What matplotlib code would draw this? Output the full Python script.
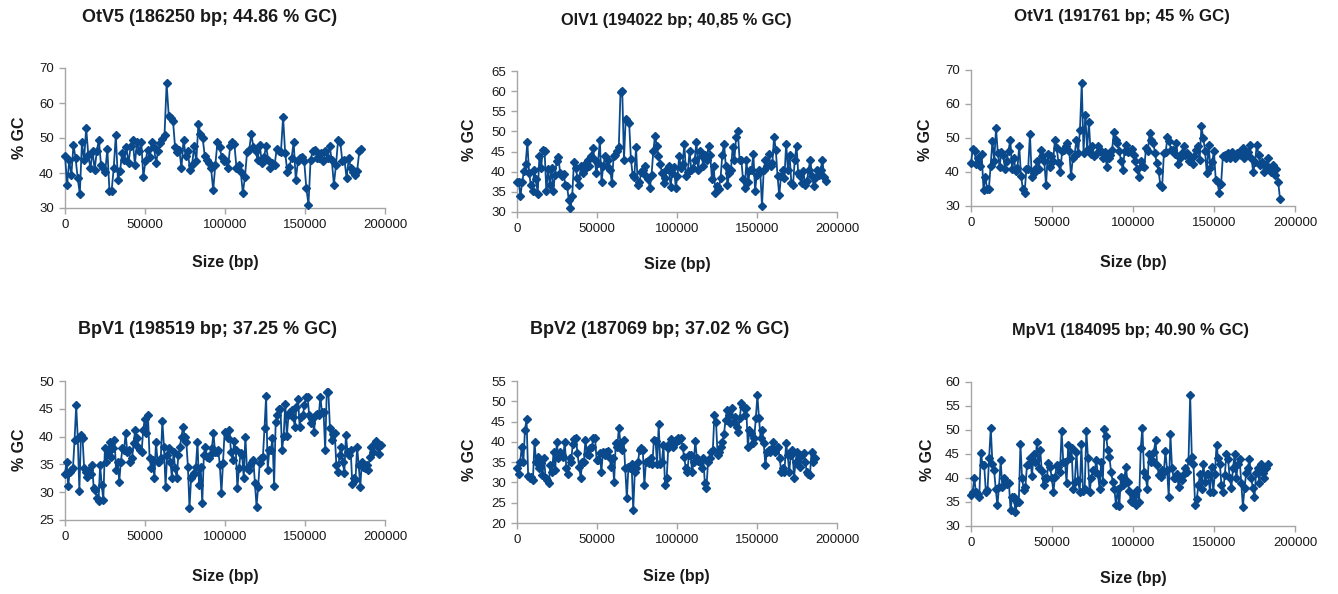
import numpy as np
import matplotlib
matplotlib.use("Agg")
import matplotlib.pyplot as plt

plt.rcParams['font.family'] = ['Liberation Sans', 'DejaVu Sans']

# ---------------- data ----------------
titles = ["OtV5 (186250 bp; 44.86 % GC)", "OlV1 (194022 bp; 40,85 % GC)", "OtV1 (191761 bp; 45 % GC)",
          "BpV1 (198519 bp; 37.25 % GC)", "BpV2 (187069 bp; 37.02 % GC)", "MpV1 (184095 bp; 40.90 % GC)"]
genome_len = [186250, 194022, 191761, 198519, 187069, 184095]
x_ticks = [0, 50000, 100000, 150000, 200000]
y_ranges = [(30, 70, 10), (30, 65, 5), (30, 70, 10), (25, 50, 5), (20, 55, 5), (30, 60, 5)]

gc_otv5 = [45, 36.7, 43.6, 39.4, 48, 44.2, 38.5, 34, 48.8, 43.6, 52.9, 45.2, 41.3, 46.3, 40.9, 46.2, 49.5,
           42.3, 41.5, 40.4, 46.8, 34.8, 34.8, 41.3, 50.8, 38, 40.6, 45.7, 43.8, 47.3, 42.8, 47.6, 49.5, 42.3,
           49, 46.2, 49, 38.9, 43.3, 46.6, 44.7, 49, 47.3, 43, 46.2, 48.6, 49.8, 50.8, 65.6, 56.3, 55.8, 55,
           47.3, 45.9, 46.6, 41.5, 49.5, 44.9, 46.2, 40.9, 42.3, 47.6, 43.3, 54, 51.2, 50, 45, 43.8, 42.8,
           41.3, 35.1, 42.3, 48.8, 47.3, 44.7, 43.3,
           43.3, 41.5, 47.6, 49, 48.3, 41.5, 42.3, 40.4, 34.3, 38.9, 46, 46.6, 51.2, 47.3, 46.2, 43.8, 48,
           42.8, 44.7, 47.6, 43.8, 41.3, 42.8, 42.3, 46.9, 46.2, 46, 56, 45.7, 40.4, 41.8, 44.2, 48.8, 38,
           43.3, 44.2, 44.7, 43.3, 35.6, 31, 43.8, 46.3, 46.6, 44.4, 44.2, 45.7, 43.3, 46.2, 44.2, 47.6,
           43.8, 36.7, 42.3, 49.5, 49, 43.3, 43.8, 38.5, 44.2, 41.5, 40.4, 39.4, 40.6, 46.2, 46.8]

gc_olv1 = [37.4, 37.4, 34, 37.4, 40.1, 42, 47.3, 39.7, 36.8, 35.2, 40.5, 38.1, 34.5, 44, 41, 45.5, 45.1,
           35.2, 40.7, 36.6, 41, 35.2, 39.3, 42.6, 43.7, 39.7, 38.9, 39.5, 36.8, 36.4, 33.1, 30.9, 34, 42.3,
           41, 38.5, 36.8, 41.5, 39.7, 40.5, 42.2, 43, 41.4, 43.8, 45.9, 43, 39.7, 42.2, 47.9, 37.4, 41.5,
           43.8, 41.5, 43, 40.5, 37.2, 43.8, 44.1, 45.1, 46.1, 59.9, 60.1, 43, 53.1, 52.5, 52.2, 43.2, 39.3,
           38.7, 46.1, 36.6, 37.4, 39.9, 40.5, 41.5, 39, 38.1, 36, 39.3, 45.1, 48.9, 46.5, 44, 42, 39.7,
           37.2, 38.5, 40.7, 41.4, 36.3, 39.7,
           41.2, 36, 38.9, 43.8, 41, 42, 47, 38.9, 39.9, 45.1, 40.5, 41, 43, 47.5, 40.5, 45.1, 44, 41.4,
           44.2, 43, 46.5, 44.2, 38.1, 41.5, 34.6, 36.4, 35.6, 38.5, 44.2, 47, 41.5, 36.8, 39.7, 40.5,
           46.1, 43, 48.6, 50, 43, 43, 38.1, 36, 42.8, 37.4, 40.5, 40.5, 44.5, 35.2, 39.3, 40.5, 39.9,
           31.5, 40.5, 42.8, 41.4, 44.5, 41.5, 42.2, 48.6, 45.5, 38.9, 34.1, 38.9, 40.5, 38.5, 47, 40.5,
           44.2, 37.2, 36.8, 43, 46.5, 39.7, 38.9, 37.1, 40.1, 36.6, 37.6, 40.5, 43, 39, 36.4, 38.5, 40.5,
           39.3, 40.5, 43, 38.7, 37.6]

gc_otv1 = [42.5, 46.9, 46.2, 42.3, 44.2, 41.8, 45.2, 34.8, 38.5, 35.1, 35.1, 41.8, 49.2, 43.3, 52.9, 45.7,
           41.5, 46, 45, 40.9, 43.3, 46.3, 49.5, 40.9, 44.2, 40.4, 41.2, 47.6, 38.9, 35.1, 33.8, 40.9, 40.9,
           51.3, 38.5, 39.6, 40.9, 43.3, 40.9, 46.6, 44.7, 43.3, 36.1, 45.2, 41.5, 44.7, 43.3, 49.5, 47.1,
           42.5, 39.9, 46.2, 46.6, 47.6, 48.6, 46.3, 38.7, 44.2, 45, 49.5, 45.7, 52.4, 66.3, 45.7, 56.9,
           46.6, 54.6, 45.4, 47.6, 44.7, 45.2, 47.6, 46.3,
           46.2, 44.2, 46, 41.5, 44.2, 45, 46.6, 51.9, 49.5, 48.6, 46.3, 43.3, 40.6, 46.3, 48, 46, 46.3,
           46.9, 45, 43.3, 40.9, 38.5, 43.3, 41.8, 41.5, 47.1, 46.2, 51.4, 49.5, 48.6, 45.7, 42.5, 40.4,
           36.1, 35.6, 45.7, 46, 50.2, 49, 46.6, 46.6, 45.2, 48.6, 42.3, 44.2, 45.7, 47.6, 45, 45.7, 43.3,
           44.2, 42.3, 44.7, 46.6, 47.6, 43.5, 53.4, 50, 46.3, 39.6, 48, 41.3, 42.8, 46.2, 37.7, 37, 33.8,
           36.5, 44.7, 45, 44, 45.5, 44, 46, 45, 44, 45.5, 46, 45, 47, 44, 45, 46, 48, 44, 40, 43, 48, 45,
           42, 43, 40, 42, 44, 41, 40, 42, 39, 41, 37, 32]

gc_bpv1 = [33.2, 35.5, 31.2, 33.7, 34, 34.4, 39.4, 45.6, 39.7, 30.2, 40.3, 39.7, 34.3, 33.7, 32.8, 34, 33.2,
           34.9, 30.7, 30.4, 28.9, 28.4, 34.9, 31.3, 28.6, 37.9, 35.5, 37.3, 39.1, 36.4, 37.9, 39.4, 34,
           35.5, 31.9, 35.5, 37.9, 37.6, 40.6, 37.3, 37.6, 35.5, 36.1, 38.8, 41.2, 39.7, 38.2, 37.6, 37.3,
           41.2, 43.2, 40.6, 43.8, 36.1, 34.4, 35.8, 32.5, 39.1, 35.5, 35.5, 36.1, 42.8, 38.2, 31, 36.7,
           37.9, 35.5, 32.6, 37.3, 34.3, 32.5, 36.7, 38.2, 40, 41.8, 40, 39.1, 34.6, 27.1, 32.5, 33.1, 33.4,
           34.6, 39.1, 31.3, 34.6, 28, 36.7, 38.2, 36.4, 36.1, 36.7, 37.9, 40.6, 37.3, 37.3, 37.6, 34.9,
           29.8, 35.2, 40.9,
           40.6, 39.8, 41.2, 37.3, 35.8, 39.2, 37.6, 30.7, 34.3, 37, 36.7, 32.5, 40, 34.3, 34, 34.9, 35.5,
           35.8, 31.6, 27.4, 31, 35.2, 36.1, 36.4, 41.6, 47.3, 34, 37.6, 37.6, 39.7, 31.2, 42.7, 43.8, 45,
           45, 37.6, 40.1, 45.9, 40.1, 43.8, 44.4, 44.7, 43.5, 41.8, 45.3, 46.8, 41.8, 43.5, 43.8, 45.6,
           47.1, 47.1, 43.8, 42.4, 43.2, 40.9, 43.8, 44.1, 43.9, 47.1, 44.4, 44.4, 37.6, 48.1, 48, 41.5,
           39.4, 40.4, 40.6, 34.9, 33.7, 36.7, 38.2, 35.5, 33.4, 40.3, 37.3, 36.7, 37.6, 31.4, 32.5, 32.2,
           38.2, 34.9, 31, 35.5, 34.6, 34.3, 34.9, 34, 36.4, 38.2, 37.3, 38.8, 39.2, 38.2, 36.8, 38.5]

gc_bpv2 = [33.5, 32.2, 35.1, 38.8, 35.1, 42.9, 45.6, 31.7, 31, 31.4, 30.6, 40, 35.1, 36.3, 33.5, 34.7, 31.8,
           35.9, 31, 30.6, 29.8, 34.3, 32.6, 37.6, 33.1, 40, 35.9, 37.6, 36.8, 36.3, 40, 33.5, 32.2, 35.9,
           35.1, 39.4, 40.7, 41, 37.2, 33.9, 31.2, 35.1, 35.1, 40.5, 36.9, 36.8, 38.4, 38.8, 41, 41, 35.5,
           35.5, 37.2, 32.6, 37.6, 36.8, 37.6, 37.7, 36.3, 33.9, 35.9, 30.2, 39.6, 38.8, 43.5, 39.6, 38,
           40.5, 33.5, 26.1, 33.9, 33.5, 34.5, 23.2, 32.6, 33.5, 35.1, 38, 38.4, 38, 29.4, 35.1, 35.3, 34.7,
           35.9, 34.5, 40.5, 40.2, 34.5, 44.3, 34.5, 35.1, 39.2, 29.4, 31, 38.4, 39.6, 40.7, 38.8,
           39.6, 40.5, 40.9, 40.5, 41, 38.8, 36.3, 33.5, 32.6, 36.8, 36.8, 32.6, 35.1, 40.2, 35.9, 35.3,
           35.1, 33.5, 35.9, 29.8, 28.7, 35.1, 35.9, 37.6, 38, 46.6, 45, 36.8, 37.6, 38.8, 40, 41.9, 45.4,
           47.9, 46.6, 44.6, 48.3, 45, 46.2, 43.7, 42.5, 46, 49.7, 48.7, 46.6, 48.4, 38.8, 42.9, 42.1, 39.6,
           40.9, 45.8, 51.5, 45.8, 40.9, 42.9, 39.6, 34.3, 37.6, 38, 37.6, 38.4, 40, 37.6, 38.4, 38.8, 35.9,
           32.6, 33.5, 32.6, 39.6, 36.8, 32.6, 36.8, 38, 31.2, 35.1, 37.6, 35.9, 33.9, 36.8, 37.2, 35.1,
           32.6, 32, 31.8, 37.6, 35.1, 36.1]

gc_mpv1 = [36.5, 37.1, 39.9, 37.1, 36.7, 36, 45.3, 42.7, 42.7, 37.1, 37.4, 44.2, 50.4, 43, 41.6, 37.8, 34.3,
           38.1, 43.7, 38.1, 39.9, 39.2, 38.8, 39, 33.3, 36, 36, 32.9, 35, 35, 47, 40, 37.4, 38.1, 42.8, 43,
           44.1, 40.4, 45.1, 43.4, 47.4, 42, 45.8, 41.4, 38.5, 39.9, 39.9, 43.2, 42.3, 40, 37.1, 40.2, 42.7,
           42.3, 41.3, 49.7, 43.4, 43.4, 39, 46.9, 44.1, 46.2, 37.8, 39.2, 45.5, 39.5, 37.1, 47, 37.2, 37.8,
           49.8, 44.1, 37.1, 39.9, 41.6, 41.3, 43.7, 40.9, 37.8,
           43.4, 39.2, 50.2, 48.8, 45.8, 44.4, 41.3, 39.2, 37.8, 34.3, 37.8, 34.2, 40.2, 38.5, 39.9, 42.3,
           39.2, 37.2, 35.3, 35, 36.4, 34.4, 37.4, 35, 46.2, 50.5, 41.3, 40.2, 37.8, 45.1, 43.4, 43.7, 45.5,
           47.9, 42.7, 40.6, 40.2, 41.6, 41.3, 45.6, 41.6, 36, 49.1, 42, 39.9, 39.9, 40.9, 38.1, 39.9, 39.5,
           40.9, 42, 41.3, 43.7, 57.3, 44.4, 43, 34.4, 35.7, 38.5, 40.9, 37.8, 43, 39.2, 40.9, 40.9, 37.1,
           42.3, 37.1, 40.9, 46.9, 44.1, 43, 38.5, 37.1, 40.6, 44.9, 44, 40, 38, 42, 45, 40, 43, 44, 39, 34,
           38, 41, 42, 44, 40, 38, 36, 41, 42, 39, 43, 41, 40, 42, 43]

series = [gc_otv5, gc_olv1, gc_otv1, gc_bpv1, gc_bpv2, gc_mpv1]

# ---------------- layout (pixels) ----------------
W, H = 1338, 594
# (left, right_at_200000, top_at_ymax, bottom_at_ymin)
boxes = [(65, 385, 68, 208), (517, 837, 71, 212), (971, 1295, 70, 206),
         (65, 385, 381, 520), (517, 837, 381, 523), (971, 1295, 382, 526)]
title_pos = [(210, 17), (676, 20), (1122, 17), (208, 330), (660, 330), (1130, 330)]
title_size = [13, 11.8, 12.2, 13, 13, 11.8]
xlab_pos = [(225, 262), (677, 265), (1133, 262), (225, 576), (676, 577), (1133, 578)]
ylab_pos = [(20, 138), (470, 140), (925, 140), (20, 450), (470, 460), (928, 460)]

color = '#0a4a8c'
axis_col = '#a6a6a6'

fig = plt.figure(figsize=(W / 100, H / 100), dpi=100)
for i in range(6):
    l, r, t, b = boxes[i]
    ax = fig.add_axes([l / W, 1 - b / H, (r - l) / W, (b - t) / H])
    y = np.array(series[i])
    x = np.linspace(0, genome_len[i] - 1000, len(y))
    ax.plot(x, y, color=color, lw=1.3, marker='D', ms=3.8, mfc=color, mec=color, zorder=3,
            clip_on=False)
    ymin, ymax, ystep = y_ranges[i]
    ax.set_xlim(0, 200000)
    ax.set_ylim(ymin, ymax)
    ax.set_xticks(x_ticks)
    ax.set_xticklabels([str(v) for v in x_ticks])
    ax.set_yticks(np.arange(ymin, ymax + 0.1, ystep))
    for s in ['top', 'right']:
        ax.spines[s].set_visible(False)
    for s in ['left', 'bottom']:
        ax.spines[s].set_color(axis_col)
        ax.spines[s].set_linewidth(1.0)
    ax.tick_params(axis='both', direction='out', length=4, width=1.0, color=axis_col,
                   labelsize=9.5, labelcolor='#1a1a1a', pad=4)
    ax.patch.set_alpha(0)
    tx, ty = title_pos[i]
    fig.text(tx / W, 1 - ty / H, titles[i], ha='center', va='center', fontsize=title_size[i],
             fontweight='bold', color='#1a1a1a')
    lx, ly = xlab_pos[i]
    fig.text(lx / W, 1 - ly / H, "Size (bp)", ha='center', va='center', fontsize=11.5,
             fontweight='bold', color='#1a1a1a')
    yx, yy = ylab_pos[i]
    fig.text(yx / W, 1 - yy / H, "% GC", ha='center', va='center', rotation=90, fontsize=11.5,
             fontweight='bold', color='#1a1a1a')

fig.savefig("out.png", dpi=100)
